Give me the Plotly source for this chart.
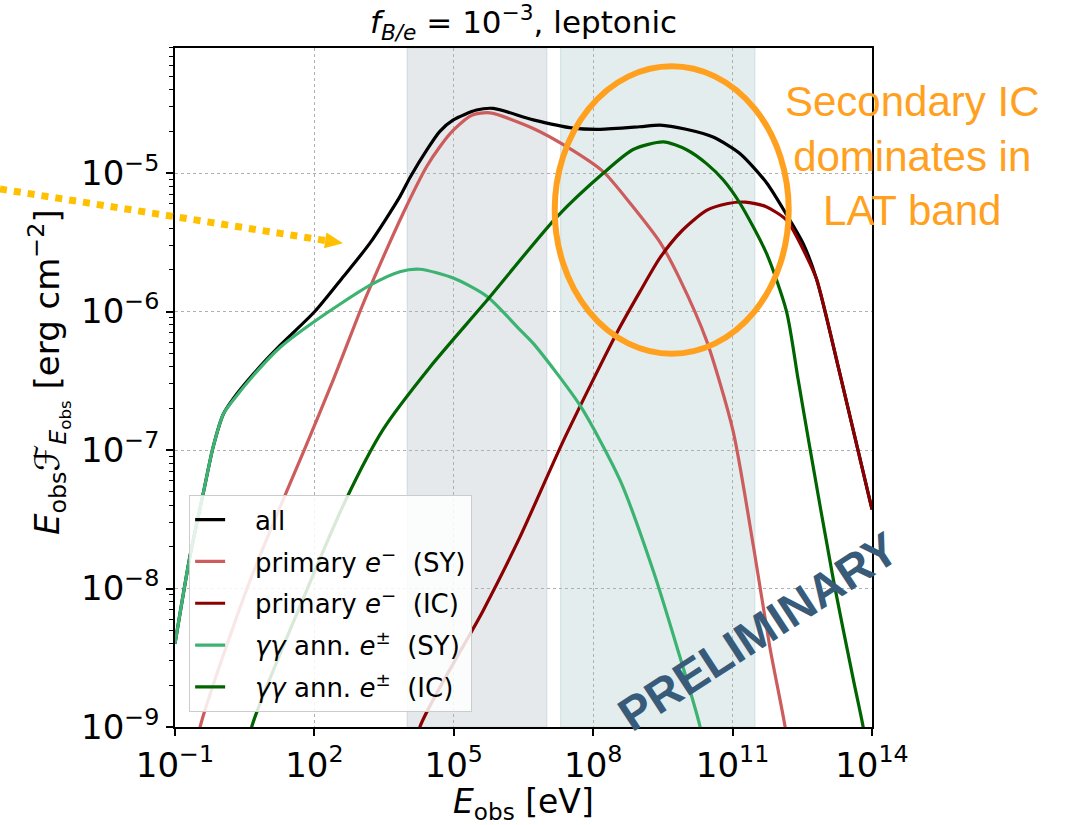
import plotly.graph_objects as go

# ---- spectral components: observed energy E_obs [eV] and E*F_E [erg cm^-2] ----
E_all = [1.0e-1, 2.09e-1, 4.07e-1, 6.61e-1, 1.10e0, 1.78e0, 4.90e0, 1.82e1, 1.02e2, 4.17e2,
         1.58e3, 6.92e3, 1.15e4, 2.63e4, 5.01e4, 9.77e4, 3.09e5, 7.08e5, 5.13e6, 3.72e7,
         1.41e8, 1.0e9, 2.75e9, 1.0e10, 3.80e10, 1.45e11, 5.37e11, 1.45e12, 3.31e12, 6.46e12,
         2.04e13, 1.0e14]
F_all = [4.0e-9, 1.70e-8, 4.90e-8, 1.05e-7, 1.82e-7, 2.34e-7, 3.55e-7, 5.69e-7, 1.0e-6, 1.78e-6,
         3.13e-6, 6.76e-6, 9.33e-6, 1.47e-5, 2.0e-5, 2.42e-5, 2.85e-5, 2.93e-5, 2.42e-5, 2.11e-5,
         2.07e-5, 2.16e-5, 2.22e-5, 2.07e-5, 1.82e-5, 1.38e-5, 8.51e-6, 5.01e-6, 3.09e-6, 1.70e-6,
         3.55e-7, 3.72e-8]

E_prim_sy = [2.51e-1, 3.47e-1, 3.55e0, 1.41e1, 6.03e1, 2.57e2, 9.55e2, 1.86e3, 8.13e3, 2.63e4,
             5.01e4, 9.77e4, 2.51e5, 6.03e5, 5.13e6, 2.69e7, 1.66e8, 6.31e8, 2.75e9, 7.41e9,
             2.75e10, 1.02e11, 2.82e11, 6.31e11, 1.35e12, 1.78e12]
F_prim_sy = [5.0e-10, 1.0e-9, 1.0e-8, 3.16e-8, 1.0e-7, 3.24e-7, 1.0e-6, 1.70e-6, 5.13e-6, 1.12e-5,
             1.55e-5, 2.04e-5, 2.63e-5, 2.72e-5, 2.10e-5, 1.55e-5, 1.02e-5, 6.03e-6, 3.16e-6, 1.70e-6,
             6.17e-7, 1.38e-7, 2.0e-8, 3.80e-9, 1.0e-9, 5.0e-10]

E_prim_ic = [1.26e4, 1.86e4, 4.27e5, 2.63e6, 2.29e7, 3.16e8, 1.0e9, 2.75e9, 7.94e9, 2.75e10,
             7.94e10, 1.86e11, 5.01e11, 1.45e12, 3.89e12, 6.46e12, 2.04e13, 1.0e14]
F_prim_ic = [5.0e-10, 1.0e-9, 6.92e-9, 2.34e-8, 1.17e-7, 6.92e-7, 1.38e-6, 2.45e-6, 3.80e-6, 5.37e-6,
             6.03e-6, 6.17e-6, 5.75e-6, 4.57e-6, 2.51e-6, 1.70e-6, 3.55e-7, 3.72e-8]

E_pair_sy = [1.0e-1, 2.09e-1, 4.07e-1, 6.61e-1, 1.10e0, 1.78e0, 4.90e0, 1.82e1, 1.02e2, 1.58e3,
             6.92e3, 1.86e4, 1.0e5, 5.13e5, 2.63e6, 5.13e6, 5.25e7, 3.80e8, 1.95e9, 6.31e9,
             2.0e10, 2.82e10]
F_pair_sy = [4.0e-9, 1.70e-8, 4.90e-8, 1.05e-7, 1.82e-7, 2.29e-7, 3.47e-7, 5.50e-7, 8.51e-7, 1.55e-6,
             1.94e-6, 2.02e-6, 1.74e-6, 1.29e-6, 7.41e-7, 5.89e-7, 2.09e-7, 6.03e-8, 1.35e-8, 3.80e-9,
             1.0e-9, 5.0e-10]

E_pair_ic = [3.16e0, 4.47e0, 7.08e1, 4.90e2, 3.02e3, 3.09e4, 5.13e5, 1.62e7, 1.66e8, 7.24e8,
             3.24e9, 1.0e10, 2.75e10, 6.31e10, 1.45e11, 5.37e11, 1.45e12, 2.57e12, 4.57e12, 1.48e13,
             3.98e13, 6.46e13, 7.94e13]
F_pair_ic = [5.0e-10, 1.0e-9, 1.0e-8, 4.47e-8, 1.41e-7, 3.98e-7, 1.20e-6, 4.79e-6, 1.0e-5, 1.48e-5,
             1.68e-5, 1.48e-5, 1.17e-5, 8.91e-6, 6.03e-6, 2.63e-6, 1.0e-6, 3.24e-7, 1.05e-7, 1.15e-8,
             2.19e-9, 1.0e-9, 6.3e-10]

NB = "\u00a0"
PAD = NB * 3
series_names = [f"{PAD}all",
                f"{PAD}primary <i>e</i><sup>−</sup>{NB}{NB}(SY)",
                f"{PAD}primary <i>e</i><sup>−</sup>{NB}{NB}(IC)",
                f"{PAD}<i>γγ</i> ann. <i>e</i><sup>±</sup>{NB}{NB}(SY)",
                f"{PAD}<i>γγ</i> ann. <i>e</i><sup>±</sup>{NB}{NB}(IC)"]
series_colors = ["#000000", "#cd5c5c", "#8b0000", "#3cb371", "#006400"]
series_E = [E_all, E_prim_sy, E_prim_ic, E_pair_sy, E_pair_ic]
series_F = [F_all, F_prim_sy, F_prim_ic, F_pair_sy, F_pair_ic]

# instrument energy bands [eV]
band_gbm = [1.0e4, 1.0e7]
band_lat = [2.0e7, 3.0e11]

x_tickvals = [1e-1, 1e2, 1e5, 1e8, 1e11, 1e14]
x_ticktext = ["10<sup>−1</sup>", "10<sup>2</sup>", "10<sup>5</sup>", "10<sup>8</sup>",
              "10<sup>11</sup>", "10<sup>14</sup>"]
y_tickvals = [1e-9, 1e-8, 1e-7, 1e-6, 1e-5]
y_ticktext = ["10<sup>−9</sup>", "10<sup>−8</sup>", "10<sup>−7</sup>", "10<sup>−6</sup>",
              "10<sup>−5</sup>"]
y_minor = [m * 10.0 ** e for e in range(-9, -4) for m in range(2, 10)]

FONT = "DejaVu Sans"
ORANGE = "#ffa11f"

fig = go.Figure()
for name, E, F, col in zip(series_names, series_E, series_F, series_colors):
    fig.add_trace(go.Scatter(
        x=E, y=F, mode="lines", name=name, legendgroup=name,
        line=dict(color=col, width=3.2, shape="spline", smoothing=0.7),
        hoverinfo="skip"))

for (lo, hi), fill, edge in [(band_gbm, "#e5e9ec", "#d4dce1"), (band_lat, "#e3edee", "#d3e1e3")]:
    fig.add_vrect(x0=lo, x1=hi, fillcolor=fill, line=dict(color=edge, width=1.2),
                  layer="below")

axis_common = dict(
    type="log", showline=True, mirror=True, linecolor="black", linewidth=1.5,
    ticks="outside", ticklen=7, tickwidth=1.5, tickcolor="black",
    showgrid=True, gridcolor="#b0b0b0", griddash="dot", gridwidth=1,
    zeroline=False, tickfont=dict(family=FONT, size=34, color="black"),
    tickmode="array",
)

fig.update_layout(
    width=1073, height=825,
    margin=dict(l=175, r=201, t=48, b=98),
    paper_bgcolor="white", plot_bgcolor="white",
    font=dict(family=FONT, color="black"),
    xaxis=dict(axis_common, range=[-1, 14], tickvals=x_tickvals, ticktext=x_ticktext),
    yaxis=dict(axis_common, range=[-9, -4.097], tickvals=y_tickvals, ticktext=y_ticktext,
               minor=dict(tickmode="array", tickvals=y_minor, ticks="outside", ticklen=4,
                          tickwidth=1.2, tickcolor="black", showgrid=False)),
    showlegend=True,
    legend=dict(x=0.02, y=0.022, xanchor="left", yanchor="bottom",
                bgcolor="rgba(255,255,255,0.85)", bordercolor="#cccccc", borderwidth=1.2,
                font=dict(family=FONT, size=26, color="black"),
                tracegroupgap=5, itemwidth=30),
)

# title and axis labels
fig.add_annotation(xref="paper", yref="paper", x=0.5, y=1.038, showarrow=False,
                   text="<i>f</i><sub><i>B/e</i></sub> = 10<sup>−3</sup>, leptonic",
                   font=dict(family=FONT, size=31, color="black"),
                   xanchor="center", yanchor="middle")
fig.add_annotation(xref="paper", yref="paper", x=0.5, y=-0.1134, showarrow=False,
                   text="<i>E</i><sub>obs</sub> [eV]",
                   font=dict(family=FONT, size=33, color="black"),
                   xanchor="center", yanchor="middle")
fig.add_annotation(xref="paper", yref="paper", x=-0.182, y=0.523, showarrow=False,
                   textangle=-90,
                   text="<i>E</i><sub>obs</sub><i>ℱ</i><sub><i>E</i><sub>obs</sub></sub> [erg cm<sup>−2</sup>]",
                   font=dict(family=FONT, size=34, color="black"),
                   xanchor="center", yanchor="middle")

# highlight of the LAT band
fig.add_shape(type="circle", xref="paper", yref="paper",
              x0=0.5448, x1=0.8805, y0=0.5498, y1=0.9730,
              line=dict(color=ORANGE, width=6), layer="above")
fig.add_annotation(xref="paper", yref="paper", x=1.057, y=0.841, showarrow=False,
                   text="Secondary IC<br>dominates in<br>LAT band", align="center",
                   xanchor="center", yanchor="middle",
                   font=dict(family="Liberation Sans", size=42, color=ORANGE))

# dotted pointer arrow
fig.add_shape(type="line", xref="paper", yref="paper",
              x0=-0.2511, y0=0.7923, x1=0.2155, y1=0.7165,
              line=dict(color="#ffc000", width=7, dash="dot"), layer="above")
fig.add_shape(type="path", xref="paper", yref="paper",
              path="M 0.2410,0.7124 L 0.2172,0.7281 L 0.2138,0.7049 Z",
              fillcolor="#ffc000", line=dict(width=0), layer="above")

# watermark
fig.add_annotation(xref="paper", yref="paper", x=0.836, y=0.141, showarrow=False,
                   textangle=-33, text="<b>PRELIMINARY</b>",
                   xanchor="center", yanchor="middle",
                   font=dict(family="Liberation Sans", size=47, color="#385b7a"))

fig.write_html("out.html")
